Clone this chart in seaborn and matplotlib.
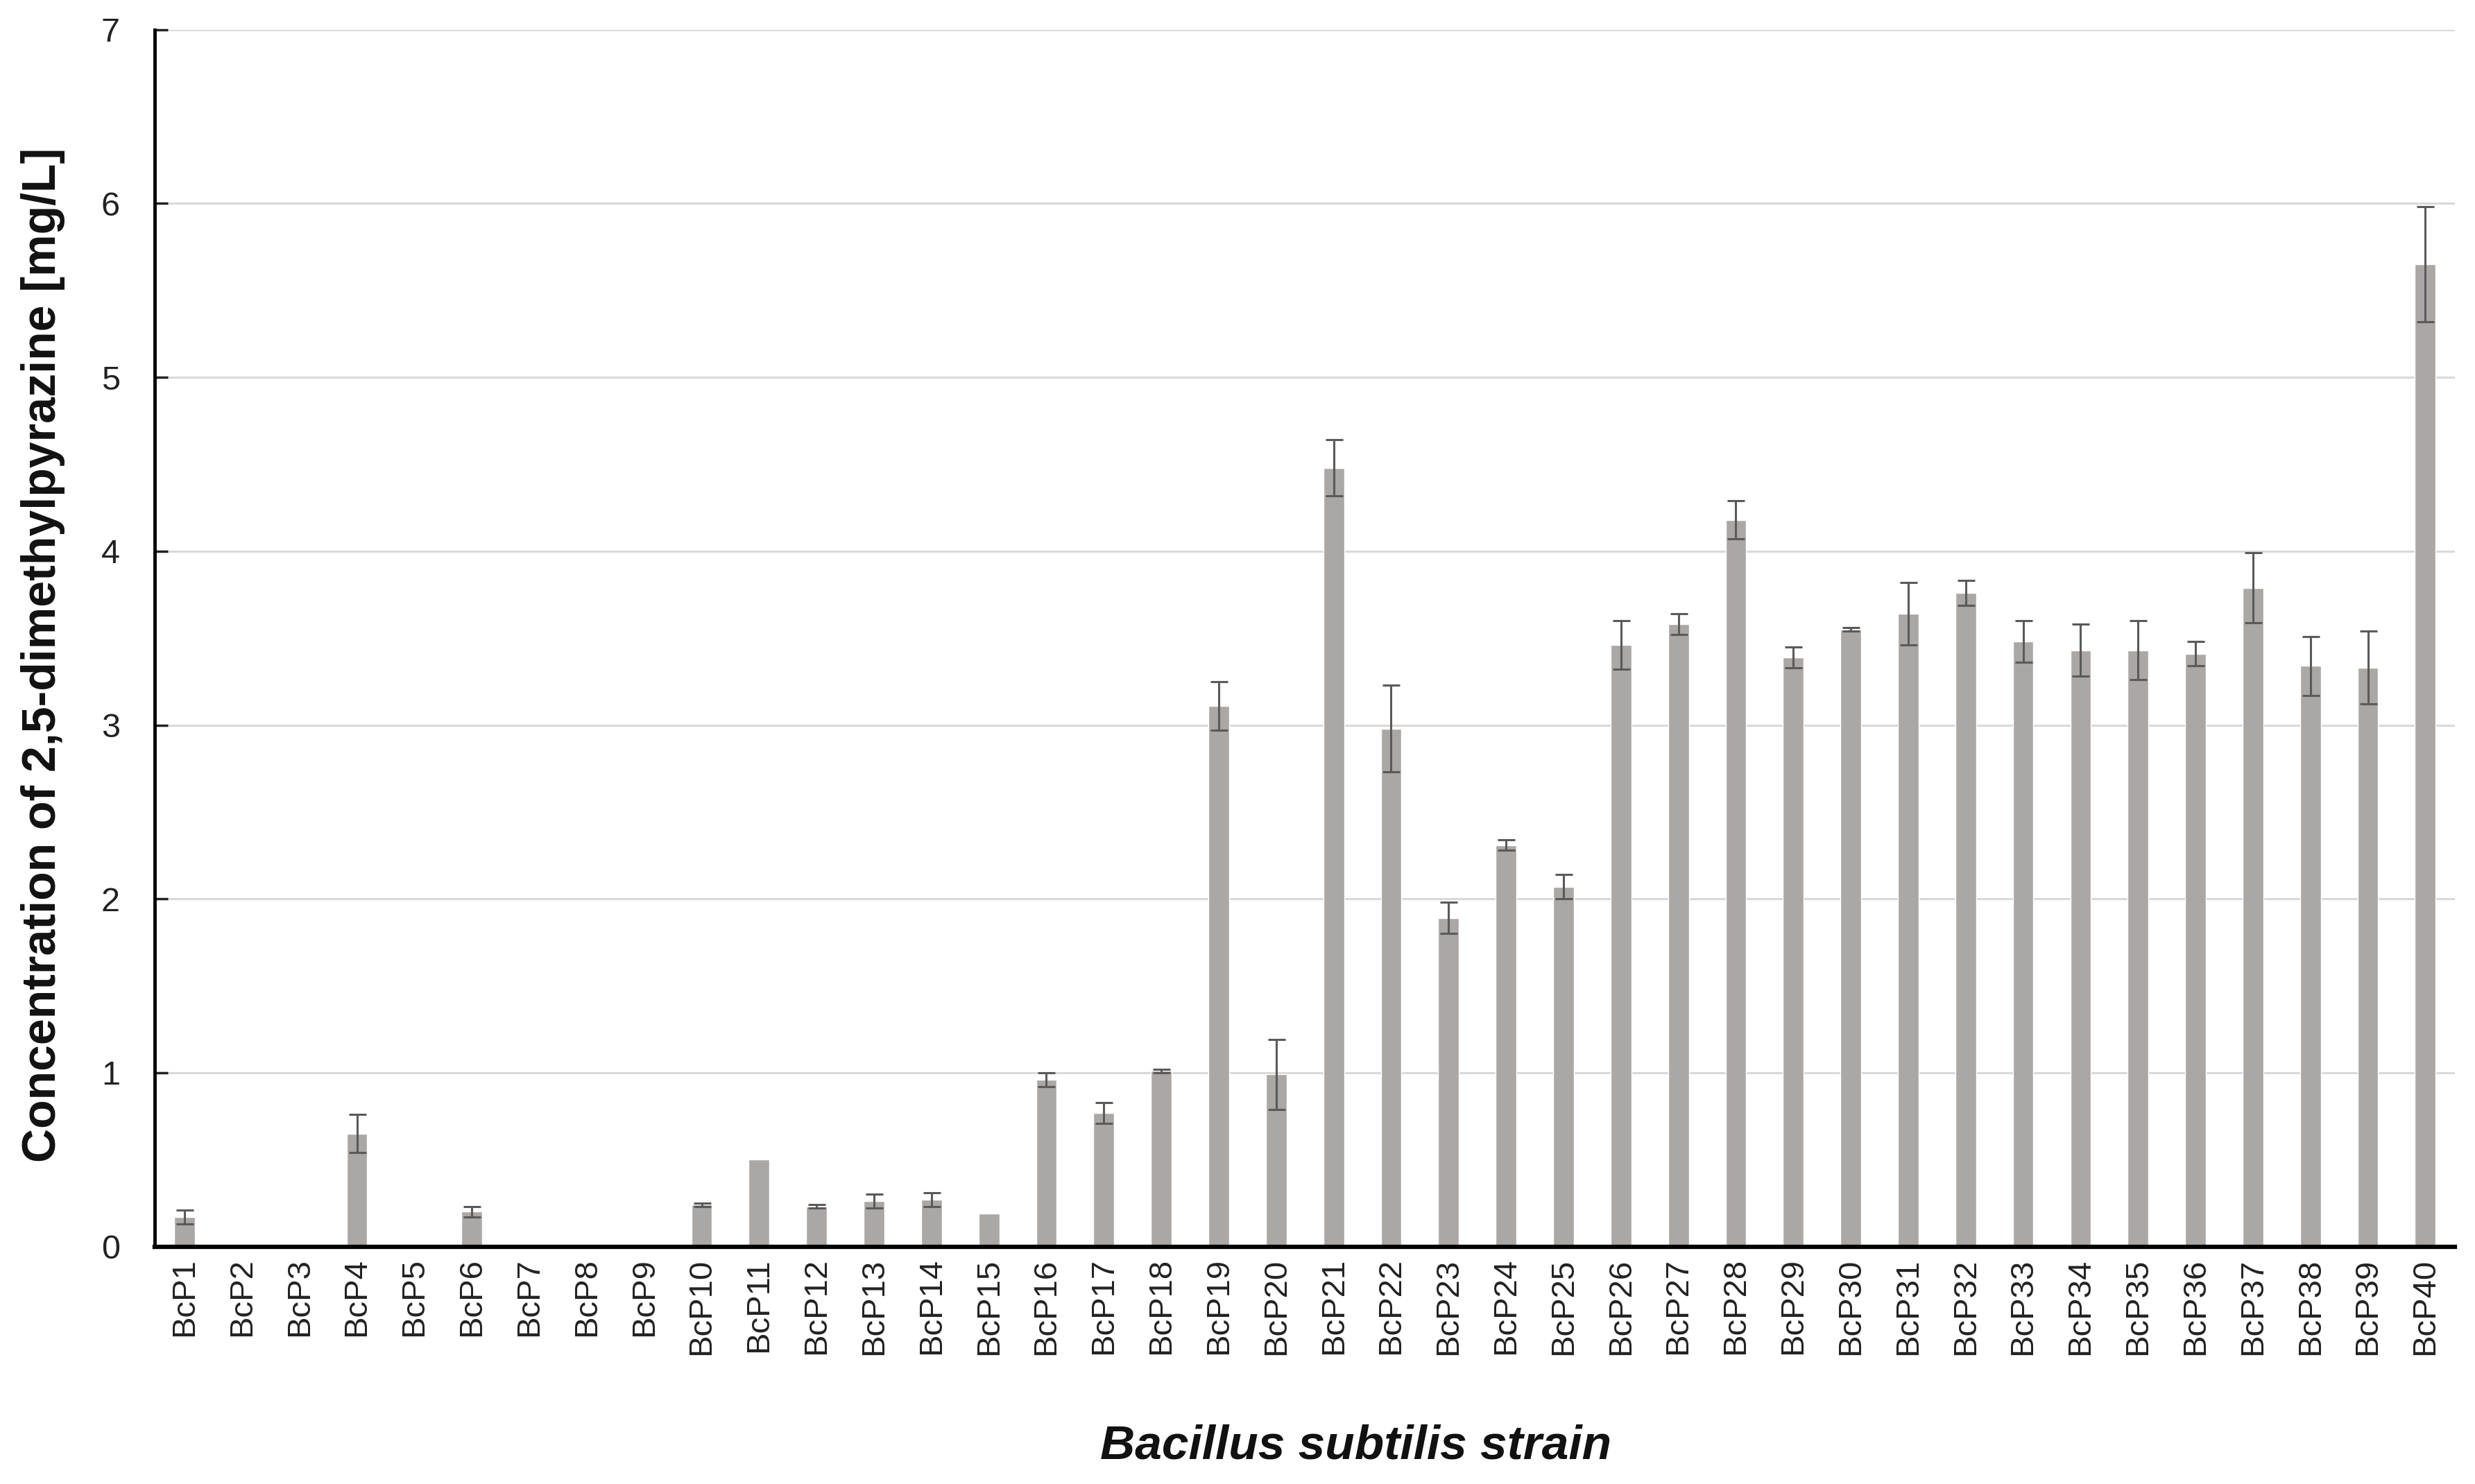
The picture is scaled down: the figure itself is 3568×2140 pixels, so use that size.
import matplotlib
matplotlib.use("Agg")
import matplotlib.pyplot as plt
import pandas as pd
import seaborn as sns
import numpy as np

sns.set_style("white")
plt.rcParams['font.family'] = ['Liberation Sans', 'DejaVu Sans']

strains = ["BcP%d" % i for i in range(1, 41)]
conc = [0.17, 0, 0, 0.65, 0, 0.20, 0, 0, 0, 0.24,
        0.50, 0.23, 0.26, 0.27, 0.19, 0.96, 0.77, 1.01, 3.11, 0.99,
        4.48, 2.98, 1.89, 2.31, 2.07, 3.46, 3.58, 4.18, 3.39, 3.55,
        3.64, 3.76, 3.48, 3.43, 3.43, 3.41, 3.79, 3.34, 3.33, 5.65]
err = [0.04, 0, 0, 0.11, 0, 0.03, 0, 0, 0, 0.01,
       0.0, 0.01, 0.04, 0.04, 0.0, 0.04, 0.06, 0.01, 0.14, 0.20,
       0.16, 0.25, 0.09, 0.03, 0.07, 0.14, 0.06, 0.11, 0.06, 0.01,
       0.18, 0.07, 0.12, 0.15, 0.17, 0.07, 0.20, 0.17, 0.21, 0.33]

df = pd.DataFrame({"Strain": strains, "Conc": conc, "Err": err})
df["Pos"] = np.arange(len(df))

fig = plt.figure(figsize=(35.68, 21.40), dpi=100)
ax = fig.add_axes([0.0625, 0.160, 0.9295, 0.820])

sns.barplot(x="Strain", y="Conc", data=df, color="#aba7a5", saturation=1,
            width=0.36, ax=ax, zorder=2)

# only strains with a measured amount get an error bar
eb = df[df["Err"] > 0]
ax.errorbar(eb["Pos"], eb["Conc"], yerr=eb["Err"], fmt="none",
            ecolor="#5a5a5a", elinewidth=2.2, capsize=9, capthick=2.2, zorder=3)

ax.set_ylim(0, 7)
ax.set_xlim(-0.52, 39.52)
ax.set_yticks(range(0, 8))
ax.yaxis.grid(True, color="#d9d9d9", linewidth=2.2, zorder=0)
ax.set_axisbelow(True)

for s in ["top", "right"]:
    ax.spines[s].set_visible(False)
ax.spines["left"].set_linewidth(3.5)
ax.spines["bottom"].set_linewidth(4.5)
ax.spines["left"].set_color("black")
ax.spines["bottom"].set_color("black")

ax.tick_params(axis="y", direction="in", length=14, width=2.5, labelsize=35,
               pad=36, left=True, colors="#222222")
ax.tick_params(axis="x", length=0, labelsize=34, pad=12, colors="#222222")
plt.setp(ax.get_xticklabels(), rotation=90)

ax.set_ylabel("Concentration of 2,5-dimethylpyrazine [mg/L]", fontsize=49,
              fontweight="bold", color="#111111")
ax.yaxis.set_label_coords(-0.039, 0.486)
ax.set_xlabel("Bacillus subtilis strain", fontsize=50, fontweight="bold",
              fontstyle="italic", color="#111111")
ax.xaxis.set_label_coords(0.522, -0.146)

plt.savefig("out.png", dpi=100)
